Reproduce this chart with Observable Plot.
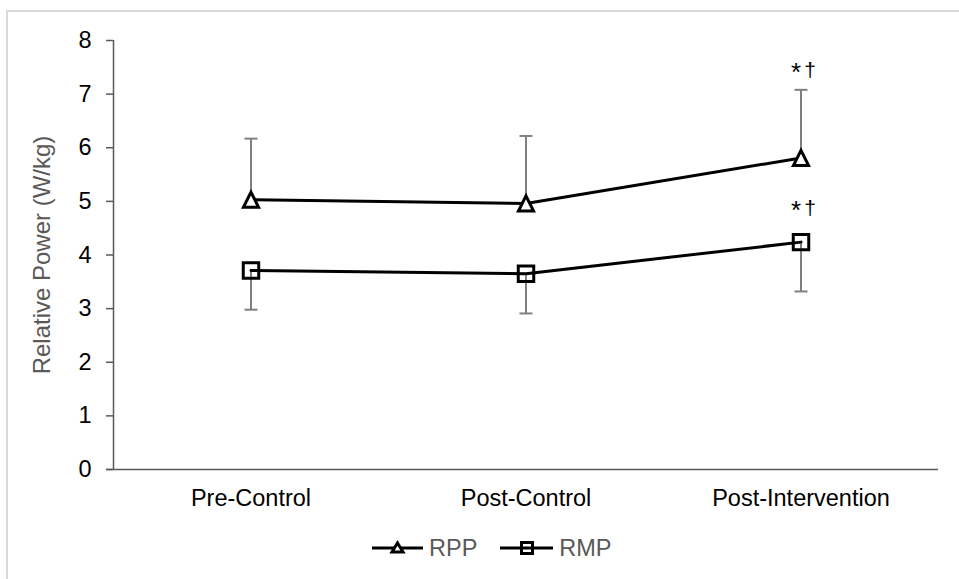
<!DOCTYPE html>
<html>
<head>
<meta charset="utf-8">
<script src="https://cdn.jsdelivr.net/npm/d3@7"></script>
<script src="https://cdn.jsdelivr.net/npm/@observablehq/plot@0.6"></script>
<style>
  html, body { margin: 0; padding: 0; background: white; }
  #wrap { position: relative; width: 959px; height: 579px; overflow: hidden; font-family: "Liberation Sans", Arial, sans-serif; }
  #chart { position: absolute; left: 0; top: 0; }
  #border { position: absolute; left: 6px; top: 10px; width: 980px; height: 600px; border: 2px solid #d9d9d9; pointer-events: none; }
  #legend { position: absolute; left: 372px; top: 535px; display: flex; align-items: center; font-size: 23.5px; color: #595959; }
  #legend .item { display: flex; align-items: center; }
  #legend .item + .item { margin-left: 23px; }
  #legend span { margin-left: 6px; line-height: 26px; }
</style>
</head>
<body>
<div id="wrap">
  <div id="chart"></div>
  <div id="legend"></div>
  <div id="border"></div>
</div>
<script>
const categories = ["Pre-Control", "Post-Control", "Post-Intervention"];
const rppMean  = [5.03, 4.96, 5.81];
const rppUpper = [6.17, 6.22, 7.08];
const rmpMean  = [3.71, 3.65, 4.24];
const rmpLower = [2.98, 2.91, 3.32];
const yTicks = [0, 1, 2, 3, 4, 5, 6, 7, 8];
const seriesNames = ["RPP", "RMP"];
const annotationStar = "*";
const annotationDagger = "\u2020";
const annotationIndex = 2;
const yLabel = "Relative Power (W/kg)";

const rpp = categories.map((c, i) => ({i, cat: c, mean: rppMean[i], err: rppUpper[i]}));
const rmp = categories.map((c, i) => ({i, cat: c, mean: rmpMean[i], err: rmpLower[i]}));
const xDomain = [-0.5, categories.length - 0.5];
const yDomain = [yTicks[0], yTicks[yTicks.length - 1]];

const capSymbol = {draw(ctx, size) { const r = Math.sqrt(size / Math.PI); ctx.moveTo(-r, 0); ctx.lineTo(r, 0); }};
const triSymbol = {draw(ctx, size) { const a = Math.sqrt(size / Math.PI) * 0.88; ctx.moveTo(0, -a); ctx.lineTo(a, a); ctx.lineTo(-a, a); ctx.closePath(); }};
const sqSymbol  = {draw(ctx, size) { const a = Math.sqrt(size / Math.PI) * 0.9; ctx.rect(-a, -a, 2 * a, 2 * a); }};

const errColor = "#808080";
const axisColor = "#595959";

function annot(d, yKey, dy) {
  return [
    Plot.text([d], {x: "i", y: yKey, text: () => annotationStar, dy: dy + 4, dx: -5, fontSize: 26, fill: "black"}),
    Plot.text([d], {x: "i", y: yKey, text: () => annotationDagger, dy: dy + 1, dx: 9, fontSize: 21, fill: "black"})
  ];
}

const chart = Plot.plot({
  width: 959,
  height: 520,
  marginTop: 40,
  marginBottom: 51,
  marginLeft: 113,
  marginRight: 21,
  style: {fontFamily: "'Liberation Sans', Arial, sans-serif", background: "transparent", color: "black"},
  x: {type: "linear", domain: xDomain},
  y: {domain: yDomain},
  marks: [
    Plot.axisY({ticks: yTicks, tickSize: 7, tickPadding: 15, fontSize: 23.5, label: null, stroke: axisColor, strokeWidth: 1.5, fill: "black"}),
    Plot.axisX({ticks: categories.map((c, i) => i), tickFormat: i => categories[i], tickSize: 0, tickPadding: 20, fontSize: 23.5, label: null, fill: "black"}),
    Plot.ruleX([xDomain[0]], {y1: yDomain[0], y2: yDomain[1], stroke: axisColor, strokeWidth: 1.5}),
    Plot.ruleY([yDomain[0]], {stroke: axisColor, strokeWidth: 1.5, insetLeft: -7}),
    Plot.text([yLabel], {frameAnchor: "left", textAnchor: "middle", rotate: -90, dx: -71, fontSize: 24, fill: "#595959"}),
    // error bars
    Plot.ruleX(rpp, {x: "i", y1: "mean", y2: "err", stroke: errColor, strokeWidth: 2}),
    Plot.ruleX(rmp, {x: "i", y1: "mean", y2: "err", stroke: errColor, strokeWidth: 2}),
    Plot.dot(rpp, {x: "i", y: "err", symbol: capSymbol, r: 6.5, stroke: errColor, strokeWidth: 2}),
    Plot.dot(rmp, {x: "i", y: "err", symbol: capSymbol, r: 6.5, stroke: errColor, strokeWidth: 2}),
    // lines
    Plot.line(rpp, {x: "i", y: "mean", stroke: "black", strokeWidth: 3}),
    Plot.line(rmp, {x: "i", y: "mean", stroke: "black", strokeWidth: 3}),
    // markers
    Plot.dot(rpp, {x: "i", y: "mean", symbol: triSymbol, r: 8.6, stroke: "black", fill: "white", strokeWidth: 3, strokeLinejoin: "miter"}),
    Plot.dot(rmp, {x: "i", y: "mean", symbol: sqSymbol, r: 8.6, stroke: "black", fill: "none", strokeWidth: 3, strokeLinejoin: "miter"}),
    // significance annotations
    ...annot(rpp[annotationIndex], "err", -21),
    ...annot(rmp[annotationIndex], "mean", -35)
  ]
});
document.getElementById("chart").appendChild(chart);

// legend
const legend = document.getElementById("legend");
const legendSymbols = [
  '<path d="M0,10 H51" stroke="black" stroke-width="3"/><path d="M25.5,5 L31,14 L20,14 Z" fill="white" stroke="black" stroke-width="3" stroke-linejoin="miter"/>',
  '<path d="M0,10 H53" stroke="black" stroke-width="3"/><rect x="21.5" y="4.5" width="11" height="11" fill="none" stroke="black" stroke-width="3"/>'
];
seriesNames.forEach((name, k) => {
  const item = document.createElement("div");
  item.className = "item";
  const w = k === 0 ? 51 : 53;
  item.innerHTML = `<svg width="${w}" height="20" style="overflow:visible">${legendSymbols[k]}</svg><span>${name}</span>`;
  legend.appendChild(item);
});
</script>
</body>
</html>
